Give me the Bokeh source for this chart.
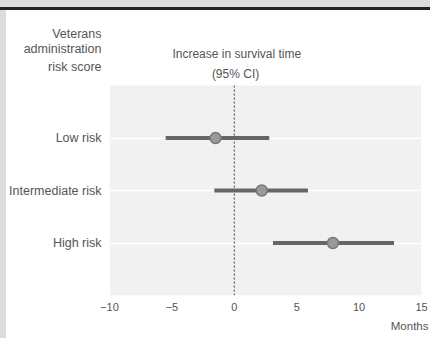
from bokeh.plotting import figure
from bokeh.models import (ColumnDataSource, Range1d, FixedTicker, Label,
                          BoxAnnotation, Title)
from bokeh.embed import file_html
from bokeh.resources import INLINE

# Forest plot: increase in survival time by Veterans Administration risk score
groups = ["Low risk", "Intermediate risk", "High risk"]
estimate = [-1.5, 2.2, 7.9]
ci_low = [-5.5, -1.6, 3.1]
ci_high = [2.8, 5.9, 12.8]
x_ticks = [-10, -5, 0, 5, 10, 15]
header_lines = ["Veterans", "administration", "risk score"]
no_change = 0

positions = [1, 2, 3]
src = ColumnDataSource(dict(pos=positions, est=estimate, lo=ci_low, hi=ci_high))

FONT = "Liberation Sans"
TXT = "#555555"

# rows sit at 1..3 inside a 0..4 panel; the space above 0 holds the headers
header_pos = [-0.99, -0.69, -0.36]
panel_top, panel_bottom = 0, 4

p = figure(width=430, height=338, output_backend="svg", toolbar_location=None,
           x_range=Range1d(-10, 15), y_range=Range1d(panel_bottom, -1.24),
           min_border_left=109, min_border_right=9,
           min_border_top=20, min_border_bottom=43,
           background_fill_color="white", border_fill_color=None,
           outline_line_color=None)

# grey page margin (left, top) with a dark rule under the top margin
p.styles = {
    "background": (
        "linear-gradient(to bottom, #dcdcdc 0px, #dcdcdc 7px, #222222 7px, "
        "#222222 10px, rgba(0,0,0,0) 10px), "
        "linear-gradient(to right, #dcdcdc 0px, #dcdcdc 6px, #ffffff 6px)"
    )
}

# shaded plotting panel
p.add_layout(BoxAnnotation(top=panel_top, bottom=panel_bottom,
                           fill_color="#f1f1f1", fill_alpha=1,
                           line_color=None, level="image"))

p.xgrid.grid_line_color = None
p.ygrid.ticker = FixedTicker(ticks=positions)
p.ygrid.grid_line_color = "white"
p.ygrid.grid_line_width = 1.5

for ax in (p.xaxis[0], p.yaxis[0]):
    ax.axis_line_color = None
    ax.major_tick_line_color = None
    ax.minor_tick_line_color = None
    ax.major_tick_out = 0
    ax.major_tick_in = 0
    ax.major_label_text_font = FONT
    ax.major_label_text_color = TXT

p.xaxis.ticker = FixedTicker(ticks=x_ticks)
p.xaxis.major_label_text_font_size = "11px"
p.xaxis.major_label_standoff = 7

labels = dict(zip(positions, groups))
labels.update(dict(zip(header_pos, header_lines)))
p.yaxis.ticker = FixedTicker(ticks=header_pos + positions)
p.yaxis.major_label_overrides = labels
p.yaxis.major_label_text_font_size = "12.5px"
p.yaxis.major_label_standoff = 8

# dotted reference line at zero change, spanning the shaded panel
p.segment(x0=[no_change], y0=[panel_top], x1=[no_change], y1=[panel_bottom],
          line_color="#444444", line_dash="2 2", line_width=1)

# confidence intervals and point estimates
p.segment(x0="lo", y0="pos", x1="hi", y1="pos", source=src,
          line_color="#666666", line_width=4)
p.scatter(x="est", y="pos", source=src, size=11, fill_color="#9a9a9a",
          line_color="#777777", line_width=1.5)

for txt, x, y in [("Increase in survival time", 0.2, -0.61),
                  ("(95% CI)", 0.1, -0.23)]:
    p.add_layout(Label(x=x, y=y, text=txt, text_align="center",
                       text_baseline="middle", text_font=FONT,
                       text_font_size="12px", text_color=TXT))

p.add_layout(Title(text="Months", align="right", offset=-7, standoff=8,
                   text_font=FONT, text_font_size="11.5px",
                   text_font_style="normal", text_color=TXT), "below")

open("out.html", "w").write(file_html(p, INLINE))
